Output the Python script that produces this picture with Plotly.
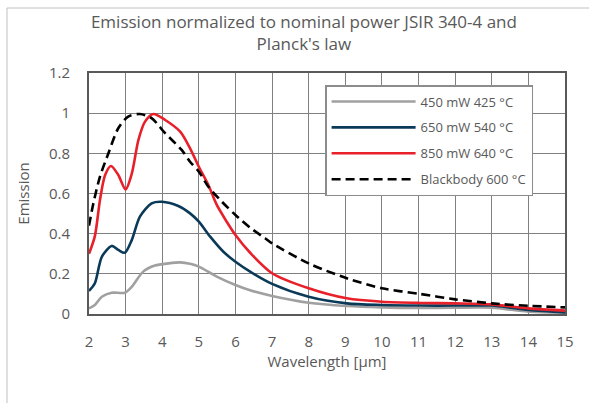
import plotly.graph_objects as go

# ---- data ----
x_450 = [2.0, 2.16, 2.35, 2.62, 2.98, 3.17, 3.48, 3.80, 4.17, 4.49, 4.76, 5.0, 5.49, 6.0, 6.40, 7.0, 8.0, 9.04, 10.0, 11.04, 12.0, 13.0, 14.0, 15.0]
y_450 = [0.028, 0.045, 0.086, 0.106, 0.106, 0.136, 0.211, 0.241, 0.252, 0.257, 0.25, 0.236, 0.186, 0.144, 0.118, 0.09, 0.056, 0.04, 0.033, 0.03, 0.031, 0.031, 0.012, 0.006]

x_650 = [2.0, 2.16, 2.35, 2.62, 2.80, 2.98, 3.17, 3.39, 3.71, 3.99, 4.44, 4.76, 5.0, 5.31, 5.67, 6.0, 6.40, 7.0, 8.0, 9.04, 10.0, 11.04, 12.0, 13.0, 14.0, 15.0]
y_650 = [0.115, 0.153, 0.285, 0.339, 0.319, 0.305, 0.369, 0.485, 0.551, 0.559, 0.538, 0.501, 0.46, 0.385, 0.31, 0.26, 0.211, 0.15, 0.086, 0.053, 0.045, 0.042, 0.042, 0.042, 0.02, 0.008]

x_850 = [2.0, 2.16, 2.30, 2.44, 2.60, 2.80, 3.0, 3.17, 3.35, 3.53, 3.76, 4.08, 4.49, 4.76, 5.0, 5.26, 5.49, 5.76, 6.0, 6.40, 7.0, 8.0, 9.04, 10.0, 11.04, 12.0, 13.0, 14.0, 15.0]
y_850 = [0.30, 0.388, 0.568, 0.692, 0.737, 0.692, 0.621, 0.70, 0.867, 0.958, 0.996, 0.966, 0.908, 0.825, 0.733, 0.642, 0.543, 0.46, 0.393, 0.305, 0.203, 0.128, 0.078, 0.061, 0.055, 0.053, 0.048, 0.028, 0.017]

x_bb = [2.0, 2.12, 2.30, 2.53, 2.80, 3.07, 3.39, 3.71, 4.08, 4.53, 4.76, 5.0, 5.26, 5.63, 6.0, 6.40, 6.81, 7.0, 8.0, 9.04, 10.0, 11.04, 12.0, 13.0, 14.0, 15.0]
y_bb = [0.44, 0.551, 0.684, 0.80, 0.925, 0.983, 0.996, 0.975, 0.90, 0.817, 0.758, 0.709, 0.634, 0.559, 0.493, 0.43, 0.377, 0.352, 0.252, 0.178, 0.128, 0.10, 0.073, 0.053, 0.041, 0.033]

series_names = ["450 mW 425 °C", "650 mW 540 °C", "850 mW 640 °C", "Blackbody 600 °C"]
x_ticks = list(range(2, 16))
y_ticks = [0, 0.2, 0.4, 0.6, 0.8, 1, 1.2]
y_tick_labels = ["0", "0.2", "0.4", "0.6", "0.8", "1", "1.2"]

FONT = "Open Sans"
TXT = "#595959"

fig = go.Figure()
specs = [
    (x_450, y_450, "#a0a0a0", None),
    (x_650, y_650, "#0b3a59", None),
    (x_850, y_850, "#e8202a", None),
    (x_bb, y_bb, "#000000", "9px,5px"),
]
for i, (xs, ys, col, dash) in enumerate(specs):
    fig.add_trace(go.Scatter(
        x=xs, y=ys, mode="lines", name=series_names[i],
        legendgroup=f"g{i}",
        line=dict(color=col, width=2.6, shape="spline", smoothing=0.8, dash=dash),
    ))

fig.update_layout(
    width=589, height=403,
    margin=dict(l=89, r=24, t=73, b=89),
    paper_bgcolor="white", plot_bgcolor="white",
    font=dict(family=FONT, color=TXT),
    title=dict(
        text="Emission normalized to nominal power JSIR 340-4 and<br>Planck's law",
        x=0.516, xanchor="center", yref="container", y=0.931, yanchor="middle",
        font=dict(size=17, color=TXT, family=FONT),
    ),
    legend=dict(
        x=0.496, y=0.95, xanchor="left", yanchor="top",
        bgcolor="white", bordercolor="#8c8c8c", borderwidth=1.5,
        font=dict(size=13, color=TXT, family=FONT),
        tracegroupgap=6, itemwidth=84,
    ),
    showlegend=True,
)

fig.update_xaxes(
    range=[2, 15], tickvals=x_ticks, ticktext=[str(v) for v in x_ticks],
    showgrid=True, gridcolor="#808080", gridwidth=1.3,
    showline=True, linecolor="#595959", linewidth=2, mirror=True,
    ticks="outside", ticklen=13, tickcolor="rgba(0,0,0,0)",
    tickfont=dict(size=15, color=TXT, family=FONT),
    title=dict(text="Wavelength [µm]", font=dict(size=15, color=TXT, family=FONT), standoff=2),
    zeroline=False,
)
fig.update_yaxes(
    range=[0, 1.2], tickvals=y_ticks, ticktext=y_tick_labels,
    showgrid=True, gridcolor="#808080", gridwidth=1.3,
    showline=True, linecolor="#595959", linewidth=2, mirror=True,
    ticks="outside", ticklen=14, tickcolor="rgba(0,0,0,0)",
    tickfont=dict(size=15, color=TXT, family=FONT),
    title=dict(text="Emission", font=dict(size=15, color=TXT, family=FONT), standoff=16),
    zeroline=False,
)

# outer chart frame (partial, as in the reference)
fig.add_shape(type="line", xref="paper", yref="paper", x0=-0.1723, x1=1.06, y0=1.2697, y1=1.2697,
              line=dict(color="#c0c0c0", width=1))
fig.add_shape(type="line", xref="paper", yref="paper", x0=-0.1723, x1=-0.1723, y0=1.2697, y1=-0.38,
              line=dict(color="#c0c0c0", width=1))

fig.write_html("out.html", config={"displayModeBar": False},
               post_script="document.body.style.margin='0';")
